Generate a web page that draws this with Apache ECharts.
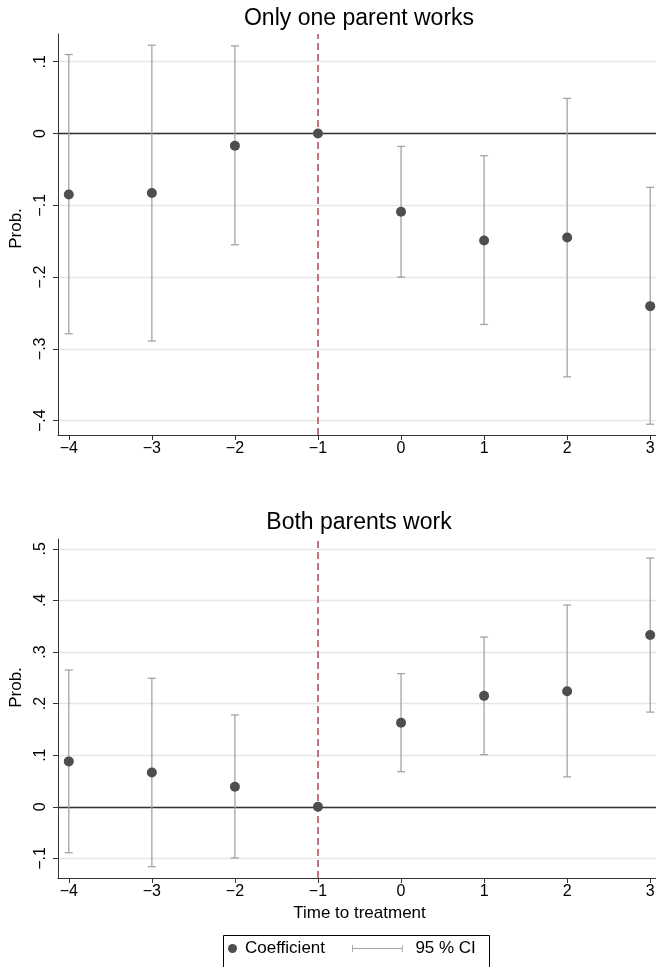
<!DOCTYPE html>
<html>
<head>
<meta charset="utf-8">
<script src="https://cdn.jsdelivr.net/npm/echarts@6/dist/echarts.min.js"></script>
<style>html,body{margin:0;padding:0;background:#fff}#c{width:656px;height:967px}</style>
</head>
<body>
<div id="c"></div>
<script>
// ---- data ----
const periods = [-4, -3, -2, -1, 0, 1, 2, 3];
const xTicks = [-4, -3, -2, -1, 0, 1, 2, 3];

// Panel 1: Only one parent works
const oneCoef = [-0.085, -0.083, -0.017, 0, -0.109, -0.149, -0.145, -0.2405];
const oneLow  = [-0.279, -0.289, -0.155, null, -0.200, -0.266, -0.339, -0.405];
const oneHigh = [ 0.110,  0.123,  0.122, null, -0.018, -0.031,  0.049, -0.075];
const oneYTicks = [-0.4, -0.3, -0.2, -0.1, 0, 0.1];

// Panel 2: Both parents work
const bothCoef = [0.088, 0.0665, 0.039, 0, 0.163, 0.215, 0.224, 0.333];
const bothLow  = [-0.089, -0.116, -0.099, null, 0.068, 0.101, 0.058, 0.1835];
const bothHigh = [ 0.265,  0.249,  0.178, null, 0.258, 0.329, 0.391, 0.482];
const bothYTicks = [-0.1, 0, 0.1, 0.2, 0.3, 0.4, 0.5];

const titles = ['Only one parent works', 'Both parents work'];
const yName = 'Prob.';
const xName = 'Time to treatment';
const legendNames = ['Coefficient', '95 % CI'];

// ---- styling ----
const FONT = 'Liberation Sans, Arial, Helvetica, sans-serif';
const POINT = '#4e4e4e';
const CI = '#a4a4a4';
const GRIDC = '#e6e6e6';
const AXISC = '#333333';
const REF = '#b5535c';

function fmtY(v) {
  if (Math.abs(v) < 1e-9) return '0';
  let s = Math.abs(v).toFixed(1).replace(/^0/, '');
  return (v < 0 ? '\u2212' : '') + s;
}
function fmtX(v) {
  return (v < 0 ? '\u2212' : '') + Math.abs(v);
}

function xAxisDef(gi, withName) {
  return {
    type: 'value', gridIndex: gi, min: -4.13, max: 3.13,
    axisLine: { show: true, onZero: false, lineStyle: { color: AXISC, width: 1 } },
    axisTick: { show: true, length: 5, lineStyle: { color: AXISC }, customValues: xTicks },
    axisLabel: { customValues: xTicks, formatter: fmtX, fontSize: 16, color: '#000', fontFamily: FONT, margin: 6 },
    splitLine: { show: false },
    name: withName ? xName : '', nameLocation: 'middle', nameGap: 27,
    nameTextStyle: { fontSize: 17, color: '#000', fontFamily: FONT }
  };
}
function yAxisDef(gi, min, max, ticks, namePad) {
  return {
    type: 'value', gridIndex: gi, min: min, max: max,
    axisLine: { show: true, onZero: false, lineStyle: { color: AXISC, width: 1 } },
    axisTick: { show: true, length: 5, lineStyle: { color: AXISC }, customValues: ticks },
    axisLabel: { customValues: ticks, formatter: fmtY, rotate: 90, fontSize: 16, color: '#000', fontFamily: FONT, margin: 9 },
    splitLine: { show: true, lineStyle: { color: GRIDC, width: 1.3 } },
    name: yName, nameLocation: 'middle', nameGap: 30, nameRotate: 90,
    nameTextStyle: { fontSize: 17, color: '#000', fontFamily: FONT, padding: namePad }
  };
}

function ciSeries(low, high, idx) {
  const data = [];
  periods.forEach((p, i) => { if (low[i] != null) data.push([p, low[i], high[i]]); });
  return {
    type: 'custom', name: legendNames[1], xAxisIndex: idx, yAxisIndex: idx,
    data: data, z: 3, silent: true, animation: false,
    encode: { x: 0, y: [1, 2] },
    renderItem: function (params, api) {
      const lo = api.coord([api.value(0), api.value(1)]);
      const hi = api.coord([api.value(0), api.value(2)]);
      const w = 4;
      const st = { stroke: CI, lineWidth: 1.3, fill: null };
      return {
        type: 'group', children: [
          { type: 'line', shape: { x1: lo[0], y1: lo[1], x2: hi[0], y2: hi[1] }, style: st },
          { type: 'line', shape: { x1: lo[0] - w, y1: lo[1], x2: lo[0] + w, y2: lo[1] }, style: st },
          { type: 'line', shape: { x1: hi[0] - w, y1: hi[1], x2: hi[0] + w, y2: hi[1] }, style: st }
        ]
      };
    }
  };
}
function coefSeries(coef, idx) {
  return {
    type: 'scatter', name: legendNames[0], xAxisIndex: idx, yAxisIndex: idx,
    data: periods.map((p, i) => [p, coef[i]]),
    symbol: 'circle', symbolSize: 10, itemStyle: { color: POINT, opacity: 1 }, z: 5,
    silent: true, animation: false,
    markLine: {
      silent: true, symbol: ['none', 'none'], label: { show: false }, z: 2, animation: false,
      data: [
        { yAxis: 0, lineStyle: { color: AXISC, type: 'solid', width: 1.4 } },
        { xAxis: -1, lineStyle: { color: REF, type: [7, 4], width: 1.6 } }
      ]
    }
  };
}

const option = {
  backgroundColor: '#ffffff',
  animation: false,
  textStyle: { fontFamily: FONT },
  title: [
    { text: titles[0], left: 359, top: 7, textAlign: 'center', padding: 0,
      textStyle: { fontSize: 23, fontWeight: 'normal', color: '#000', fontFamily: FONT } },
    { text: titles[1], left: 359, top: 511, textAlign: 'center', padding: 0,
      textStyle: { fontSize: 23, fontWeight: 'normal', color: '#000', fontFamily: FONT } }
  ],
  grid: [
    { left: 58, top: 34, width: 603, height: 401, outerBoundsMode: 'none' },
    { left: 58, top: 539, width: 603, height: 339, outerBoundsMode: 'none' }
  ],
  xAxis: [xAxisDef(0, false), xAxisDef(1, true)],
  yAxis: [
    yAxisDef(0, -0.42, 0.1386, oneYTicks, [0, 0, 0, 12]),
    yAxisDef(1, -0.138, 0.519, bothYTicks, [0, 0, 0, 42])
  ],
  legend: [
    { data: [{ name: legendNames[0], icon: 'circle', itemStyle: { color: POINT } }],
      left: 228, top: 940, itemWidth: 9, itemHeight: 9, padding: 0, selectedMode: false,
      textStyle: { fontSize: 17, color: '#000', fontFamily: FONT, padding: [0, 0, 0, 3] } },
    { data: [{ name: legendNames[1], itemStyle: { color: CI },
        icon: 'path://M0,0h1v8h-1z M0,3.5h58v1h-58z M57,0h1v8h-1z' }],
      left: 352, top: 940, itemWidth: 58, itemHeight: 7, padding: 0, selectedMode: false,
      textStyle: { fontSize: 17, color: '#000', fontFamily: FONT, padding: [0, 0, 0, 4] } }
  ],
  graphic: [
    { type: 'rect', left: 221, top: 933, shape: { width: 266, height: 33 }, z: -1,
      style: { fill: 'none', stroke: '#000', lineWidth: 1 }, silent: true }
  ],
  series: [
    ciSeries(oneLow, oneHigh, 0), coefSeries(oneCoef, 0),
    ciSeries(bothLow, bothHigh, 1), coefSeries(bothCoef, 1)
  ]
};

const chart = echarts.init(document.getElementById('c'), null, { renderer: 'canvas' });
chart.setOption(option);
</script>
</body>
</html>
